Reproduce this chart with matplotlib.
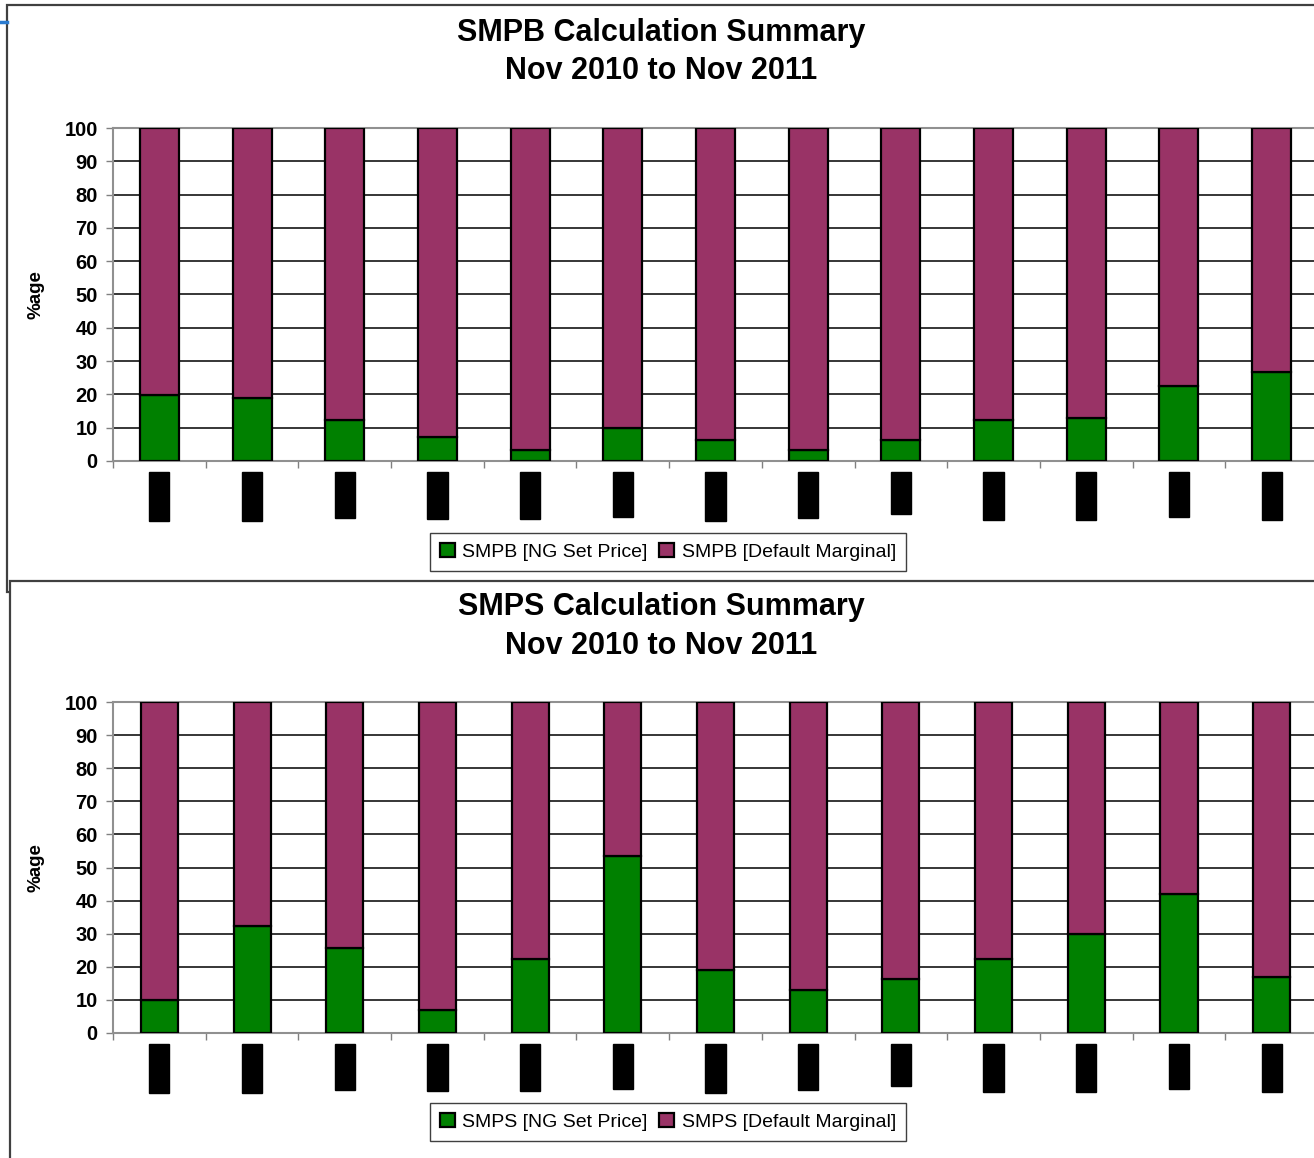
import matplotlib
matplotlib.use("Agg")
import matplotlib.pyplot as plt
from matplotlib.patches import Rectangle
from matplotlib.lines import Line2D
import numpy as np

months = ["Nov-10", "Dec-10", "Jan-11", "Feb-11", "Mar-11", "Apr-11", "May-11",
          "Jun-11", "Jul-11", "Aug-11", "Sep-11", "Oct-11", "Nov-11"]
smpb_ng = [19.8, 19.0, 12.4, 7.2, 3.3, 9.9, 6.4, 3.3, 6.4, 12.4, 13.0, 22.5, 26.7]
smpb_def = [100 - v for v in smpb_ng]
smps_ng = [10.0, 32.2, 25.6, 7.0, 22.4, 53.5, 19.0, 13.0, 16.3, 22.4, 30.0, 42.0, 17.0]
smps_def = [100 - v for v in smps_ng]
yticks = list(range(0, 101, 10))

GREEN = "#008000"
PURPLE = "#993366"
FONT = "Liberation Sans"

W, H = 1314, 1158
fig = plt.figure(figsize=(W / 100, H / 100), dpi=100)
fig.patch.set_facecolor("white")

def fx(px):
    return px / W

def fy(py):
    return 1 - py / H

# chart frames
fig.add_artist(Rectangle((fx(7), fy(592)), fx(1320 - 7), fy(5) - fy(592),
                         transform=fig.transFigure, facecolor="white",
                         edgecolor="#404040", lw=1.6, zorder=0))
fig.add_artist(Rectangle((fx(10), fy(1165)), fx(1320 - 10), fy(581) - fy(1165),
                         transform=fig.transFigure, facecolor="white",
                         edgecolor="#404040", lw=1.6, zorder=0.5))
fig.add_artist(Line2D([0, fx(7)], [fy(22), fy(22)], transform=fig.transFigure,
                      color="#2a7bd0", lw=2.5))

AX_L, AX_R = 113, 1318


def draw_chart(bottom_px, top_px, ng, dflt, lab_ng, lab_def, legend_y, barw):
    ax = fig.add_axes([fx(AX_L), fy(bottom_px), fx(AX_R - AX_L), fy(top_px) - fy(bottom_px)])
    ax.set_zorder(2)
    ax.patch.set_alpha(0)
    x = np.arange(len(months))
    b1 = ax.bar(x, ng, width=barw, color=GREEN, edgecolor="black", lw=1.6,
                label=lab_ng, zorder=3)
    b2 = ax.bar(x, dflt, bottom=ng, width=barw, color=PURPLE, edgecolor="black",
                lw=1.6, label=lab_def, zorder=3)
    ax.set_xlim(-0.5, len(months) - 0.5)
    ax.set_ylim(0, 100)
    ax.set_yticks(yticks)
    ax.set_yticklabels([str(v) for v in yticks], fontsize=14.5, fontweight="bold",
                       family=FONT)
    ax.tick_params(axis="y", length=5, width=1, color="#808080", pad=6)
    for yv in yticks[1:-1]:
        ax.axhline(yv, color="black", lw=1.1, zorder=1)
    ax.spines["right"].set_visible(False)
    for s in ["top", "left", "bottom"]:
        ax.spines[s].set_color("#909090")
        ax.spines[s].set_lw(1.5)
    ax.set_xticks(x)
    ax.set_xticklabels(months, rotation=90, fontsize=9, family=FONT,
                       color="black", va="top")
    for t in ax.get_xticklabels():
        t.set_bbox(dict(facecolor="black", edgecolor="black", pad=3))
    ax.tick_params(axis="x", which="major", length=0, pad=11)
    ax.set_xticks(np.arange(-0.5, len(months), 1), minor=True)
    ax.tick_params(axis="x", which="minor", length=5, width=1, color="#808080")
    ax.set_ylabel("%age", fontsize=13.5, fontweight="bold", family=FONT)
    ax.yaxis.set_label_coords((44 - AX_L) / (AX_R - AX_L), 0.5)
    leg = fig.legend(handles=[b1, b2], labels=[lab_ng, lab_def],
                     loc="center", bbox_to_anchor=(fx(668), fy(legend_y)),
                     ncol=2, frameon=True, fancybox=False, framealpha=1,
                     edgecolor="#404040", handlelength=0.75, handleheight=0.75,
                     handletextpad=0.4, columnspacing=0.6, borderpad=0.5,
                     prop={"family": FONT, "size": 14})
    leg.get_frame().set_linewidth(1.0)
    leg.set_zorder(3)
    return ax


draw_chart(461, 128, smpb_ng, smpb_def, "SMPB [NG Set Price]", "SMPB [Default Marginal]",
           552, 0.42)
draw_chart(1033, 702, smps_ng, smps_def, "SMPS [NG Set Price]", "SMPS [Default Marginal]",
           1122, 0.40)

for txt, ypx in [("SMPB Calculation Summary", 33), ("Nov 2010 to Nov 2011", 71),
                 ("SMPS Calculation Summary", 607), ("Nov 2010 to Nov 2011", 646)]:
    fig.text(fx(661), fy(ypx), txt, ha="center", va="center", fontsize=22,
             fontweight="bold", family=FONT, zorder=5)

fig.savefig("out.png", dpi=100, facecolor="white")
